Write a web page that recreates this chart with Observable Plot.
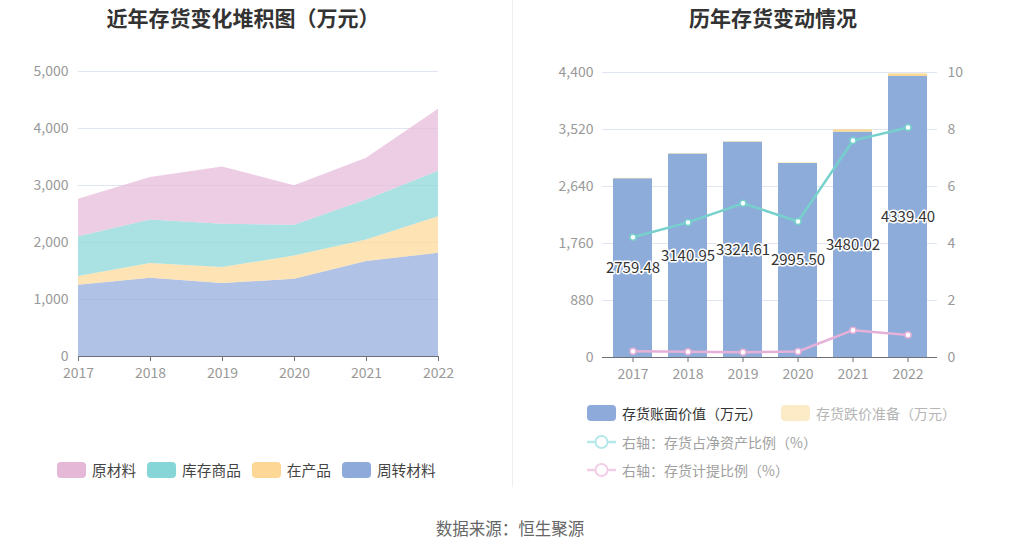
<!DOCTYPE html>
<html><head><meta charset="utf-8">
<script src="https://cdn.jsdelivr.net/npm/d3@7"></script>
<script src="https://cdn.jsdelivr.net/npm/@observablehq/plot@0.6"></script>
<style>
body{margin:0;background:#fff;font-family:"Noto Sans CJK SC","Noto Sans",sans-serif;}
#root{position:relative;width:1020px;height:550px;overflow:hidden;background:#fff;}
.abs{position:absolute;}
.title{font-size:21px;font-weight:bold;color:#333;white-space:nowrap;transform:translate(-50%,-50%);line-height:1;}
.leg{display:flex;align-items:center;font-size:14px;white-space:nowrap;line-height:1;transform:translateY(-50%);}
.sw{width:29px;height:16px;border-radius:4px;margin-right:6px;display:inline-block;}
.item{display:flex;align-items:center;margin-right:11px;}
.caption{font-size:16.5px;color:#666;white-space:nowrap;transform:translate(-50%,-50%);line-height:1;}
</style>
</head><body>
<div id="root">
  <div class="abs" style="left:512px;top:0;width:1px;height:487px;background:#eeeeee;"></div>
  <div class="abs title" style="left:243px;top:17px;">近年存货变化堆积图（万元）</div>
  <div class="abs title" style="left:773px;top:17px;">历年存货变动情况</div>
  <div id="left" class="abs" style="left:0;top:0;"></div>
  <div id="right" class="abs" style="left:510px;top:0;"></div>
  <div id="legL" class="abs leg" style="left:57px;top:470px;font-size:14.7px;"></div>
  <div id="legR" class="abs" style="left:587px;top:400px;"></div>
  <div class="abs caption" style="left:510px;top:528px;">数据来源：恒生聚源</div>
</div>
<script>
// ---------- data ----------
const years = [2017, 2018, 2019, 2020, 2021, 2022];
// left stacked area (万元), bottom to top
const zhouzhuanCailiao = [1250, 1373, 1279, 1355, 1665, 1811]; // 周转材料
const zaiChanpin      = [152, 257, 281, 409, 379, 642];        // 在产品
const kucunShangpin   = [701, 765, 759, 537, 701, 795];        // 库存商品
const yuanCailiao     = [656, 746, 1006, 695, 735, 1091];      // 原材料
const areaNames = ["原材料", "库存商品", "在产品", "周转材料"];
const areaColors = ["#e6b8d8", "#86d6d8", "#fdd796", "#8eaadb"];

// right chart
const bookValue = [2759.48, 3140.95, 3324.61, 2995.50, 3480.02, 4339.40]; // 存货账面价值
const provision = [6, 6, 6, 6, 34, 38];                                  // 存货跌价准备
const netAssetRatio = [4.22, 4.74, 5.41, 4.77, 7.61, 8.07];             // 存货占净资产比例 %
const provisionRatio = [0.22, 0.20, 0.18, 0.21, 0.96, 0.79];            // 存货计提比例 %
const barNames = ["存货账面价值（万元）", "存货跌价准备（万元）"];
const barColors = ["#8eacd9", "#fbd98d"];
const lineNames = ["右轴：存货占净资产比例（%）", "右轴：存货计提比例（%）"];
const lineColors = ["#76d1cc", "#e5b1d8"];
const leftTicks = [0, 1000, 2000, 3000, 4000, 5000];
const rightTicksL = [0, 880, 1760, 2640, 3520, 4400];
const rightTicksR = [0, 2, 4, 6, 8, 10];

const FONT = '"Noto Sans CJK SC","Noto Sans",sans-serif';
const axisStyle = {fontSize: "14px", fontFamily: FONT, color: "#999", background: "transparent", overflow: "visible"};

// ---------- left chart ----------
const areaSeries = [
  ["周转材料", zhouzhuanCailiao],
  ["在产品", zaiChanpin],
  ["库存商品", kucunShangpin],
  ["原材料", yuanCailiao]
];
const areaData = [];
for (const [name, vals] of areaSeries) years.forEach((y, i) => areaData.push({year: y, type: name, value: vals[i]}));

const left = Plot.plot({
  width: 510, height: 400,
  marginLeft: 78, marginRight: 72, marginTop: 71, marginBottom: 44,
  style: axisStyle,
  x: {type: "linear", domain: [2017, 2022], label: null},
  y: {domain: [0, 5000], label: null},
  color: {domain: areaNames, range: areaColors},
  marks: [
    Plot.gridY(leftTicks.slice(1), {stroke: "#e0e6f1", strokeOpacity: 1}),
    Plot.areaY(areaData, {x: "year", y: "value", fill: "type", fillOpacity: 0.7, curve: "linear"}),
    Plot.ruleY([0], {stroke: "#6e7079"}),
    Plot.axisX({ticks: years, tickFormat: d => String(d), tickSize: 5, tickPadding: 7, stroke: "#6e7079", fill: "#999", label: null}),
    Plot.axisY({ticks: leftTicks, tickFormat: d3.format(","), tickSize: 0, tickPadding: 10, fill: "#999", label: null})
  ]
});
document.getElementById("left").appendChild(left);

// ---------- right chart ----------
const SCALE = 440; // right-axis unit -> left-axis unit
const barData = [];
years.forEach((y, i) => {
  barData.push({year: y, type: barNames[0], value: bookValue[i]});
  barData.push({year: y, type: barNames[1], value: provision[i]});
});
const labelData = years.map((y, i) => ({year: y, value: bookValue[i]}));
const net = years.map((y, i) => ({year: y, r: netAssetRatio[i]}));
const prov = years.map((y, i) => ({year: y, r: provisionRatio[i]}));

const right = Plot.plot({
  width: 510, height: 400,
  marginLeft: 92, marginRight: 83, marginTop: 72, marginBottom: 43,
  style: axisStyle,
  x: {type: "band", domain: years, paddingInner: 0.3, paddingOuter: 0.15, label: null},
  y: {domain: [0, 4400], label: null},
  color: {domain: barNames, range: barColors},
  marks: [
    Plot.gridY(rightTicksL.slice(1), {stroke: "#e0e6f1", strokeOpacity: 1}),
    Plot.barY(barData, {x: "year", y: "value", fill: "type"}),
    Plot.ruleY([0], {stroke: "#6e7079"}),
    Plot.axisX({tickFormat: d => String(d), tickSize: 5, tickPadding: 7, stroke: "#6e7079", fill: "#999", label: null}),
    Plot.axisY({anchor: "left", ticks: rightTicksL, tickFormat: d3.format(","), tickSize: 0, tickPadding: 9, fill: "#999", label: null}),
    Plot.axisY({anchor: "right", ticks: rightTicksR.map(v => v * SCALE), tickFormat: d => String(Math.round(d / SCALE)), tickSize: 0, tickPadding: 10, fill: "#999", label: null}),
    Plot.line(net, {x: "year", y: d => d.r * SCALE, stroke: lineColors[0], strokeWidth: 2.5}),
    Plot.dot(net, {x: "year", y: d => d.r * SCALE, r: 3, fill: "white", stroke: lineColors[0], strokeWidth: 1.5}),
    Plot.line(prov, {x: "year", y: d => d.r * SCALE, stroke: lineColors[1], strokeWidth: 2.5}),
    Plot.dot(prov, {x: "year", y: d => d.r * SCALE, r: 3, fill: "white", stroke: lineColors[1], strokeWidth: 1.5}),
    Plot.text(labelData, {x: "year", y: d => d.value / 2, text: d => d.value.toFixed(2), fill: "#333", stroke: "white", strokeWidth: 3, fontSize: 15})
  ]
});
document.getElementById("right").appendChild(right);

// ---------- legends ----------
const legL = document.getElementById("legL");
areaNames.forEach((n, i) => {
  const it = document.createElement("div");
  it.className = "item";
  it.innerHTML = `<span class="sw" style="background:${areaColors[i]}"></span><span style="color:#444">${n}</span>`;
  legL.appendChild(it);
});

const legR = document.getElementById("legR");
legR.innerHTML = `
<div class="leg" style="position:absolute;left:0;top:13px;">
  <div class="item" style="margin-right:19px;"><span class="sw" style="background:#8eaadb"></span><span style="color:#333">${barNames[0]}</span></div>
  <div class="item"><span class="sw" style="background:#fdebc8"></span><span style="color:#b5b5b5">${barNames[1]}</span></div>
</div>
<div class="leg" style="position:absolute;left:0;top:42px;">
  <div class="item"><svg width="29" height="16" style="margin-right:6px"><line x1="0" y1="8" x2="29" y2="8" stroke="#b6e8ea" stroke-width="2.5"/><circle cx="14.5" cy="8" r="6" fill="white" stroke="#b6e8ea" stroke-width="2"/></svg><span style="color:#a0a0a0">${lineNames[0]}</span></div>
</div>
<div class="leg" style="position:absolute;left:0;top:70px;">
  <div class="item"><svg width="29" height="16" style="margin-right:6px"><line x1="0" y1="8" x2="29" y2="8" stroke="#f2cfe6" stroke-width="2.5"/><circle cx="14.5" cy="8" r="6" fill="white" stroke="#f2cfe6" stroke-width="2"/></svg><span style="color:#a0a0a0">${lineNames[1]}</span></div>
</div>`;
</script>
</body></html>
